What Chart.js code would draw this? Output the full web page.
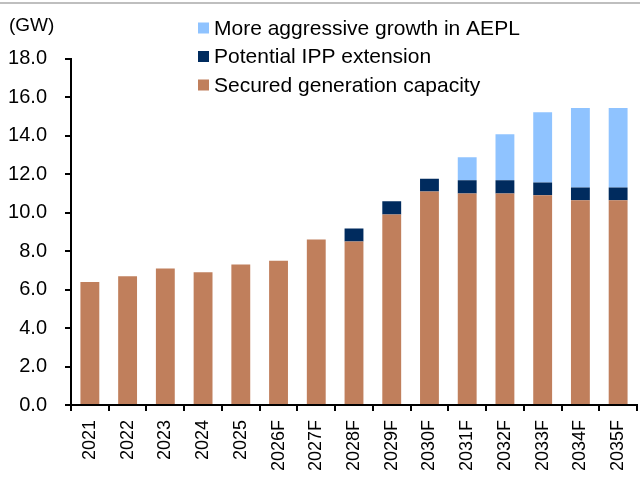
<!DOCTYPE html>
<html>
<head>
<meta charset="utf-8">
<script src="https://cdn.jsdelivr.net/npm/chart.js@4.4.1/dist/chart.umd.min.js"></script>
<style>
  html, body { margin: 0; padding: 0; background: #fff; }
  #wrap { width: 640px; height: 478px; }
</style>
</head>
<body>
<div id="wrap"><canvas id="bar-chart"></canvas></div>
<script>
const years = ["2021", "2022", "2023", "2024", "2025", "2026F", "2027F", "2028F", "2029F", "2030F", "2031F", "2032F", "2033F", "2034F", "2035F"];
const secured = [6.4, 6.7, 7.1, 6.9, 7.3, 7.5, 8.6, 8.5, 9.9, 11.1, 11.0, 11.0, 10.9, 10.65, 10.65];
const ippExtension = [0, 0, 0, 0, 0, 0, 0, 0.68, 0.7, 0.66, 0.68, 0.68, 0.67, 0.66, 0.66];
const aggressive = [0, 0, 0, 0, 0, 0, 0, 0, 0, 0, 1.2, 2.4, 3.65, 4.13, 4.13];
const yTicks = [0, 2, 4, 6, 8, 10, 12, 14, 16, 18];

const FONT = "'Liberation Sans', Arial, sans-serif";
Chart.defaults.color = "#000";
Chart.defaults.font.family = FONT;

// legend sits over the plot, one item per row, top item = last dataset
const overlayLegend = {
  id: "overlayLegend",
  afterDraw(chart) {
    const ctx = chart.ctx;
    ctx.save();
    // thin grey rule across the top
    ctx.strokeStyle = "#bfbfbf";
    ctx.lineWidth = 2;
    ctx.beginPath();
    ctx.moveTo(0, 3);
    ctx.lineTo(chart.width, 3);
    ctx.stroke();

    ctx.font = "21px " + FONT;
    ctx.textBaseline = "middle";
    const sets = chart.data.datasets.slice().reverse();
    sets.forEach((ds, k) => {
      const y = 28 + k * 28.5;
      ctx.fillStyle = ds.backgroundColor;
      ctx.fillRect(198, y - 5.5, 11, 11);
      ctx.fillStyle = "#000";
      ctx.fillText(ds.label, 214, y + 1);
    });
    ctx.restore();
  },
};

new Chart(document.getElementById("bar-chart"), {
  type: "bar",
  data: {
    labels: years,
    datasets: [
      {
        label: "Secured generation capacity",
        data: secured,
        backgroundColor: "#c07f5c",
      },
      {
        label: "Potential IPP extension",
        data: ippExtension,
        backgroundColor: "#002b5e",
      },
      {
        label: "More aggressive growth in AEPL",
        data: aggressive,
        backgroundColor: "#8fc3ff",
      },
    ],
  },
  options: {
    responsive: true,
    maintainAspectRatio: false,
    animation: false,
    barPercentage: 0.5,
    categoryPercentage: 1,
    layout: {
      padding: { left: 9, right: 3, bottom: 0, top: 0 },
    },
    plugins: {
      legend: { display: false },
      tooltip: { enabled: false },
      title: {
        display: true,
        text: "(GW)",
        align: "start",
        font: { size: 19, weight: "normal" },
        padding: { top: 14, bottom: 22 },
      },
    },
    scales: {
      x: {
        stacked: true,
        afterFit(axis) {
          axis.height = 73;
          axis.paddingLeft = 0;
          axis.paddingRight = 0;
        },
        border: { display: true, color: "#000", width: 2 },
        grid: { display: true, drawOnChartArea: false, drawTicks: true, tickLength: 6, color: "#000", lineWidth: 2 },
        ticks: { minRotation: 90, maxRotation: 90, padding: 9, font: { size: 18 } },
      },
      y: {
        stacked: true,
        min: 0,
        max: 18,
        afterBuildTicks(axis) {
          axis.ticks = yTicks.map((v) => ({ value: v }));
        },
        afterFit(axis) {
          axis.width = 62;
        },
        border: { display: true, color: "#000", width: 2 },
        grid: { display: true, drawOnChartArea: false, drawTicks: true, tickLength: 6, color: "#000", lineWidth: 2 },
        ticks: {
          padding: 18,
          font: { size: 20 },
          callback: (v) => Number(v).toFixed(1),
        },
      },
    },
  },
  plugins: [overlayLegend],
});
</script>
</body>
</html>
